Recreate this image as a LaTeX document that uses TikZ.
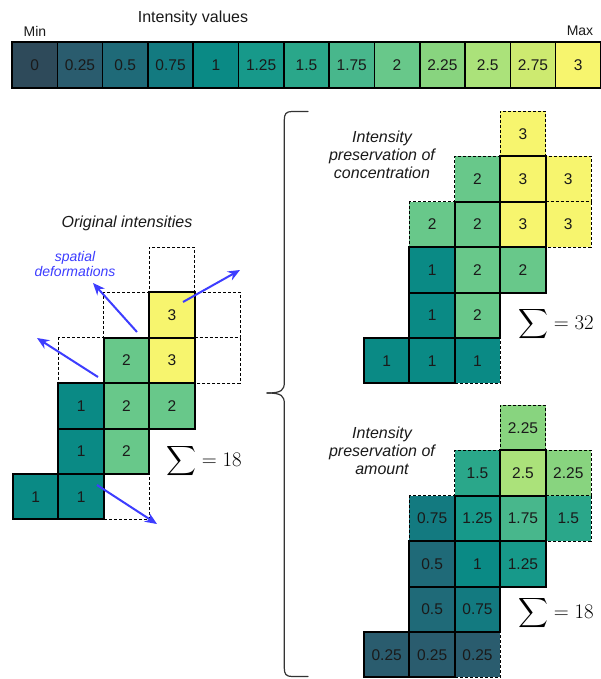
\documentclass[tikz,border=0pt]{standalone}
\usepackage{amsmath}
\usepackage[no-math]{fontspec}
\setmainfont{Liberation Sans}
\usetikzlibrary{arrows.meta}
\definecolor{v0}{HTML}{2E4A5A}
\definecolor{v1}{HTML}{2A5C6E}
\definecolor{v2}{HTML}{1F6A78}
\definecolor{v3}{HTML}{137A80}
\definecolor{v4}{HTML}{0A8A85}
\definecolor{v5}{HTML}{17998A}
\definecolor{v6}{HTML}{2AA78A}
\definecolor{v7}{HTML}{48B78C}
\definecolor{v8}{HTML}{68C88A}
\definecolor{v9}{HTML}{88D47F}
\definecolor{v10}{HTML}{ABE27A}
\definecolor{v11}{HTML}{CDEA70}
\definecolor{v12}{HTML}{F7F56E}
\definecolor{arrowblue}{HTML}{3D3DFF}
\definecolor{txt}{HTML}{1A1A1A}
\newcommand\mycell[6]{\node[#1,fill=#5,anchor=north west] (#2) at ({#3*45.4},{#4*45.4}) {#6};}
\begin{document}
\begin{tikzpicture}[x=1pt,y=-1pt,
  solidcell/.style={draw=black, line width=1.9pt, minimum size=45.4pt, inner sep=0pt, outer sep=0pt, text=txt, font=\fontsize{15.5}{18}\selectfont},
  dashline/.style={draw=black, line width=0.7pt, dash pattern=on 3pt off 2pt},
  dashcell/.style={dashline, minimum size=45.4pt, inner sep=0pt, outer sep=0pt, text=txt, font=\fontsize{15.5}{18}\selectfont},
  opencell/.style={dashcell, draw=none},
  barcell/.style={draw=black, line width=1.6pt, minimum width=45.3pt, minimum height=46pt, inner sep=0pt, outer sep=0pt, text=txt, font=\fontsize{15.5}{18}\selectfont},
  deform/.style={-{Stealth[length=12pt,width=10pt]}, line width=2pt, draw=arrowblue},
  lbl/.style={font=\itshape\fontsize{16}{18}\selectfont, align=center, text=txt},
  sumlbl/.style={anchor=west, inner sep=0pt, font=\fontsize{21.5}{25}\selectfont},
]
\useasboundingbox (0,0) rectangle (601,679);
\fill[white] (0,0) rectangle (601,679);

% ---- colour bar ----
\node[font=\fontsize{16}{19}\selectfont, text=txt] (title) at (193,18) {Intensity values};
\node[font=\fontsize{14}{17}\selectfont, text=txt] (minl) at (35,31) {Min};
\node[font=\fontsize{14}{17}\selectfont, text=txt] (maxl) at (580,31) {Max};
\foreach \v [count=\i from 0] in {0,0.25,0.5,0.75,1,1.25,1.5,1.75,2,2.25,2.5,2.75,3}
  \node[barcell, fill=v\i, anchor=north west] (b\i) at ({12+\i*45.3},42) {\v};

% ---- original grid ----
\node[lbl] (origlbl) at (127,223) {Original intensities};
\begin{scope}[shift={(13,247)}]
  \mycell{dashcell}{Lr0c3}{3}{0}{white}{}
  \mycell{dashcell}{Lr1c2}{2}{1}{white}{}
  \mycell{dashcell}{Lr1c4}{4}{1}{white}{}
  \mycell{dashcell}{Lr2c1}{1}{2}{white}{}
  \mycell{opencell}{Lr2c4}{4}{2}{white}{}
  \mycell{dashcell}{Lr5c2}{2}{5}{white}{}
  \draw[dashline] (Lr2c4.north east) -- (Lr2c4.south east) -- (Lr2c4.south west);
  \mycell{solidcell}{Lr1c3}{3}{1}{v12}{3}
  \mycell{solidcell}{Lr2c2}{2}{2}{v8}{2}
  \mycell{solidcell}{Lr2c3}{3}{2}{v12}{3}
  \mycell{solidcell}{Lr3c1}{1}{3}{v4}{1}
  \mycell{solidcell}{Lr3c2}{2}{3}{v8}{2}
  \mycell{solidcell}{Lr3c3}{3}{3}{v8}{2}
  \mycell{solidcell}{Lr4c1}{1}{4}{v4}{1}
  \mycell{solidcell}{Lr4c2}{2}{4}{v8}{2}
  \mycell{solidcell}{Lr5c0}{0}{5}{v4}{1}
  \mycell{solidcell}{Lr5c1}{1}{5}{v4}{1}
\end{scope}
\node[sumlbl] (sumL) at (166,461) {$\displaystyle\sum=18$};

% deformation arrows
\node[lbl, text=arrowblue, font=\itshape\fontsize{14}{15}\selectfont] (deflbl) at (75,264) {spatial\\deformations};
\coordinate (a1s) at (98,377);  \coordinate (a1e) at (37,338);
\coordinate (a2s) at (137,332); \coordinate (a2e) at (93,283);
\coordinate (a3s) at (183,302); \coordinate (a3e) at (240,270);
\coordinate (a4s) at (97,485);  \coordinate (a4e) at (157,524);
\draw[deform] (a1s) -- (a1e);
\draw[deform] (a2s) -- (a2e);
\draw[deform] (a3s) -- (a3e);
\draw[deform] (a4s) -- (a4e);

% ---- brace ----
\draw[line width=1.2pt, draw=black!80, line cap=round]
  (308,111.5) -- (292,111.5) .. controls (286,111.5) and (284.3,114) .. (284.3,120)
  -- (284.3,382) .. controls (284.3,390) and (282,393) .. (267,393);
\draw[line width=1.2pt, draw=black!80, line cap=round]
  (267,393) .. controls (282,393) and (284.3,396) .. (284.3,404)
  -- (284.3,668) .. controls (284.3,674) and (286,676.5) .. (292,676.5) -- (308,676.5);

% ---- concentration grid ----
\node[lbl] (conclbl) at (382,155) {Intensity\\preservation of\\concentration};
\begin{scope}[shift={(364,111)}]
  \mycell{dashcell}{Cr0c3}{3}{0}{v12}{3}
  \mycell{dashcell}{Cr1c2}{2}{1}{v8}{2}
  \mycell{dashcell}{Cr1c4}{4}{1}{v12}{3}
  \mycell{dashcell}{Cr2c1}{1}{2}{v8}{2}
  \mycell{opencell}{Cr2c4}{4}{2}{v12}{3}
  \mycell{dashcell}{Cr5c2}{2}{5}{v4}{1}
  \draw[dashline] (Cr2c4.north east) -- (Cr2c4.south east) -- (Cr2c4.south west);
  \mycell{solidcell}{Cr1c3}{3}{1}{v12}{3}
  \mycell{solidcell}{Cr2c2}{2}{2}{v8}{2}
  \mycell{solidcell}{Cr2c3}{3}{2}{v12}{3}
  \mycell{solidcell}{Cr3c1}{1}{3}{v4}{1}
  \mycell{solidcell}{Cr3c2}{2}{3}{v8}{2}
  \mycell{solidcell}{Cr3c3}{3}{3}{v8}{2}
  \mycell{solidcell}{Cr4c1}{1}{4}{v4}{1}
  \mycell{solidcell}{Cr4c2}{2}{4}{v8}{2}
  \mycell{solidcell}{Cr5c0}{0}{5}{v4}{1}
  \mycell{solidcell}{Cr5c1}{1}{5}{v4}{1}
\end{scope}
\node[sumlbl] (sumC) at (518,324) {$\displaystyle\sum=32$};

% ---- amount grid ----
\node[lbl] (amtlbl) at (382,451) {Intensity\\preservation of\\amount};
\begin{scope}[shift={(364,405)}]
  \mycell{dashcell}{Ar0c3}{3}{0}{v9}{2.25}
  \mycell{dashcell}{Ar1c2}{2}{1}{v6}{1.5}
  \mycell{dashcell}{Ar1c4}{4}{1}{v9}{2.25}
  \mycell{dashcell}{Ar2c1}{1}{2}{v3}{0.75}
  \mycell{opencell}{Ar2c4}{4}{2}{v6}{1.5}
  \mycell{dashcell}{Ar5c2}{2}{5}{v1}{0.25}
  \draw[dashline] (Ar2c4.north east) -- (Ar2c4.south east) -- (Ar2c4.south west);
  \mycell{solidcell}{Ar1c3}{3}{1}{v10}{2.5}
  \mycell{solidcell}{Ar2c2}{2}{2}{v5}{1.25}
  \mycell{solidcell}{Ar2c3}{3}{2}{v7}{1.75}
  \mycell{solidcell}{Ar3c1}{1}{3}{v2}{0.5}
  \mycell{solidcell}{Ar3c2}{2}{3}{v4}{1}
  \mycell{solidcell}{Ar3c3}{3}{3}{v5}{1.25}
  \mycell{solidcell}{Ar4c1}{1}{4}{v2}{0.5}
  \mycell{solidcell}{Ar4c2}{2}{4}{v3}{0.75}
  \mycell{solidcell}{Ar5c0}{0}{5}{v1}{0.25}
  \mycell{solidcell}{Ar5c1}{1}{5}{v1}{0.25}
\end{scope}
\node[sumlbl] (sumA) at (518,613) {$\displaystyle\sum=18$};
\end{tikzpicture}
\end{document}
